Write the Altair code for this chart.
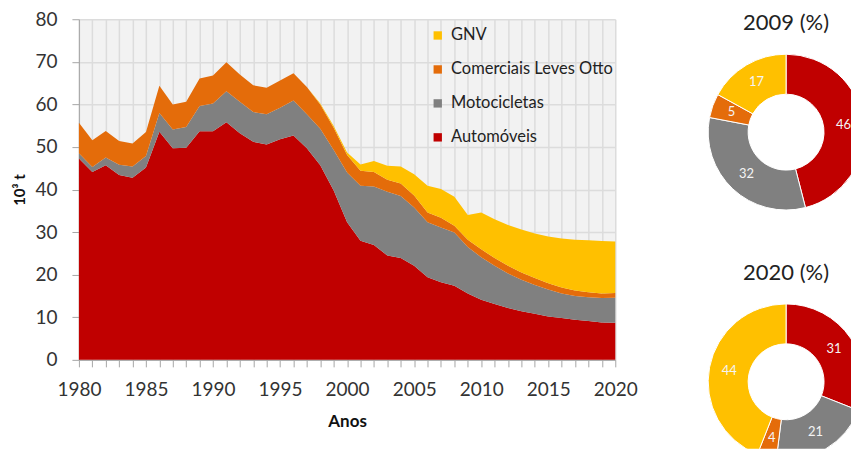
import altair as alt
import pandas as pd

# ---------------- data ----------------
years = list(range(1980, 2021))

automoveis = [47.3, 44.1, 45.7, 43.4, 42.8, 45.2, 53.6, 49.7, 49.8, 53.7,
              53.7, 55.8, 53.2, 51.2, 50.6, 51.8, 52.7, 49.7, 45.7, 39.8,
              32.3, 28.0, 27.0, 24.5, 23.9, 22.1, 19.4, 18.2, 17.4, 15.6,
              14.1, 13.1, 12.2, 11.4, 10.8, 10.2, 9.8, 9.4, 9.1, 8.8, 8.7]
motocicletas = [1.2, 1.2, 1.8, 2.4, 2.6, 2.7, 4.4, 4.4, 4.9, 5.9,
                6.5, 7.3, 7.4, 7.0, 7.1, 7.4, 8.2, 8.0, 8.6, 9.5,
                11.7, 12.9, 13.7, 15.0, 14.6, 13.7, 12.9, 12.9, 12.5, 10.9,
                10.0, 9.0, 8.1, 7.4, 6.8, 6.3, 5.8, 5.6, 5.6, 5.7, 5.9]
comerciais = [7.2, 6.3, 6.25, 5.6, 5.4, 5.6, 6.4, 5.9, 5.9, 6.5,
              6.6, 6.8, 6.4, 6.3, 6.2, 6.4, 6.4, 6.4, 5.7, 5.2,
              4.1, 3.5, 3.4, 2.8, 2.9, 2.8, 2.3, 2.3, 1.6, 1.7,
              1.9, 1.8, 1.8, 1.7, 1.6, 1.5, 1.4, 1.3, 1.2, 1.1, 1.1]
gnv = [0, 0, 0, 0, 0, 0, 0, 0, 0, 0,
       0, 0, 0, 0, 0, 0, 0, 0, 0.2, 0.4,
       0.6, 1.5, 2.6, 3.3, 4.0, 5.0, 6.3, 6.7, 6.8, 5.8,
       8.6, 9.1, 9.6, 10.1, 10.5, 11.0, 11.5, 11.9, 12.2, 12.3, 12.1]

series_names = ["Automóveis", "Motocicletas", "Comerciais Leves Otto", "GNV"]
series_values = [automoveis, motocicletas, comerciais, gnv]

legend_order = ["GNV", "Comerciais Leves Otto", "Motocicletas", "Automóveis"]
legend_colors = ["#FFC000", "#E46C0A", "#808080", "#C00000"]

pie_cats = ["Automóveis", "Motocicletas", "Comerciais Leves Otto", "GNV"]
pie_2009 = [46, 32, 5, 17]
pie_2020 = [31, 21, 4, 44]
pie_titles = ["2009 (%)", "2020 (%)"]

y_ticks = [0, 10, 20, 30, 40, 50, 60, 70, 80]

FONT = "Lato"

# ---------------- area chart ----------------
rows = []
for k, (name, vals) in enumerate(zip(series_names, series_values)):
    for yr, v in zip(years, vals):
        rows.append({"Ano": yr, "Categoria": name, "valor": v, "ordem": k})
df = pd.DataFrame(rows)

color_scale = alt.Scale(domain=legend_order, range=legend_colors)

area = alt.Chart(df).mark_area(interpolate="linear").encode(
    x=alt.X(
        "Ano:Q",
        scale=alt.Scale(domain=[1980, 2020], nice=False, zero=False),
        axis=alt.Axis(
            values=years,
            format="d",
            labelExpr="datum.value % 5 == 0 ? datum.label : ''",
            title="Anos",
            titleFontWeight="bold",
            titleFontSize=17,
            titlePadding=14,
            labelPadding=14,
            labelFlush=False,
            labelOverlap=False,
        ),
    ),
    y=alt.Y(
        "valor:Q",
        stack="zero",
        scale=alt.Scale(domain=[0, 80], nice=False),
        axis=alt.Axis(
            values=y_ticks,
            title="10³ t",
            titleFontWeight="bold",
            titleFontSize=15,
            titlePadding=7,
            labelPadding=15,
        ),
    ),
    color=alt.Color(
        "Categoria:N",
        scale=color_scale,
        legend=alt.Legend(
            title=None,
            orient="none",
            legendX=351,
            legendY=8,
            symbolType="square",
            symbolSize=70,
            symbolStrokeWidth=0,
            labelFontSize=16.5,
            labelFont=FONT,
            labelColor="#222222",
            labelOffset=5,
            labelLimit=400,
            rowPadding=17,
            padding=0,
        ),
    ),
    order=alt.Order("ordem:Q", sort="ascending"),
).properties(
    width=537,
    height=341,
    view=alt.ViewBackground(fill="#f2f2f2", strokeWidth=0),
)


# ---------------- donuts ----------------
def donut(vals, title, height, cy, ty):
    d = pd.DataFrame({"Categoria": pie_cats, "pct": vals, "ordem": [0, 1, 2, 3]})
    base = alt.Chart(d).encode(
        theta=alt.Theta("pct:Q", stack=True),
        order=alt.Order("ordem:Q", sort="ascending"),
        x=alt.value(80),
        y=alt.value(cy),
    )
    arcs = base.mark_arc(
        innerRadius=38, outerRadius=78, stroke="white", strokeWidth=1, clip=True
    ).encode(color=alt.Color("Categoria:N", scale=color_scale, legend=None))
    labels = base.mark_text(radius=58, fontSize=13, font=FONT, color="#f4f4f4").encode(
        text="pct:Q"
    )
    head = alt.Chart(pd.DataFrame({"titulo": [title]})).mark_text(
        fontSize=22, font=FONT, color="#222222", baseline="middle"
    ).encode(text="titulo:N", x=alt.value(80), y=alt.value(ty))
    return alt.layer(arcs, labels, head).properties(
        width=145,
        height=height,
        view=alt.ViewBackground(strokeWidth=0),
    )


donuts = alt.vconcat(
    donut(pie_2009, pie_titles[0], 232, 113, 4),
    donut(pie_2020, pie_titles[1], 190, 123, 14),
    spacing=8,
)

chart = alt.hconcat(area, donuts, spacing=68).resolve_scale(color="independent").properties(
    padding={"left": 4, "top": 2, "right": 0, "bottom": 0}
).configure(font=FONT).configure_axis(
    labelFont=FONT,
    labelFontSize=19,
    labelColor="#333333",
    titleFont=FONT,
    titleColor="#111111",
    domainColor="#a6a6a6",
    tickColor="#a6a6a6",
    tickSize=7,
    gridColor="#dcdcdc",
    gridWidth=1.5,
).configure_view(strokeWidth=0)

chart.save("out.html", embed_options={"renderer": "svg", "actions": False})
